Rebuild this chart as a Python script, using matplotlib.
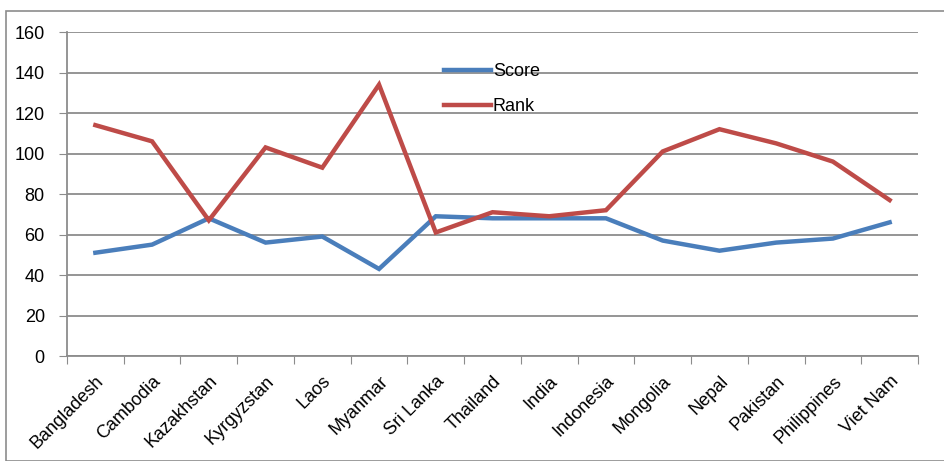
import matplotlib.pyplot as plt
from matplotlib.patches import Rectangle

# ------------------------------------------
# DATA
# ------------------------------------------

countries = ["Bangladesh", "Cambodia", "Kazakhstan", "Kyrgyzstan", "Laos",
             "Myanmar", "Sri Lanka", "Thailand", "India", "Indonesia",
             "Mongolia", "Nepal", "Pakistan", "Philippines", "Viet Nam"]
score = [51, 55, 68, 56, 59, 43, 69, 68, 68, 68, 57, 52, 56, 58, 66]
rank = [114, 106, 67, 103, 93, 134, 61, 71, 69, 72, 101, 112, 105, 96, 77]
y_ticks = [0, 20, 40, 60, 80, 100, 120, 140, 160]

BLUE = "#4a7ebb"
RED = "#be4b48"
GRID = "#8c8c8c"
FS = 13

plt.rcParams["font.family"] = ["Liberation Sans", "DejaVu Sans"]

fig = plt.figure(figsize=(9.44, 4.61), dpi=100)
W, H = 944, 461

# chart frame
fig.patches.append(Rectangle((6 / W, 0), 1.0, 1 - 11 / H, transform=fig.transFigure,
                             fill=False, edgecolor="#8c8c8c", linewidth=1.2))

ax = fig.add_axes([67 / W, 1 - 356 / H, (918 - 67) / W, (356 - 32) / H])

x = list(range(len(countries)))
ax.plot(x, score, color=BLUE, linewidth=3.2, label="Score", solid_joinstyle="miter")
ax.plot(x, rank, color=RED, linewidth=3.2, label="Rank", solid_joinstyle="miter")

ax.set_xlim(-0.5, len(countries) - 0.5)
ax.set_ylim(0, 160)
ax.set_yticks(y_ticks)
ax.set_yticklabels([str(v) for v in y_ticks], fontsize=FS)
ax.yaxis.grid(True, color=GRID, linewidth=1.3)
ax.set_axisbelow(True)
ax.tick_params(axis="y", length=6, color=GRID, pad=10)

# category ticks on boundaries, labels at centers
ax.set_xticks([i - 0.5 for i in range(len(countries) + 1)])
ax.set_xticklabels([])
ax.set_xticks(x, minor=True)
ax.set_xticklabels(countries, minor=True, rotation=45, ha="right",
                   rotation_mode="anchor", fontsize=FS)
ax.tick_params(axis="x", which="major", length=6, color=GRID, direction="out")
ax.tick_params(axis="x", which="minor", length=0, pad=12)

for side in ["top", "right"]:
    ax.spines[side].set_visible(False)
for side in ["left", "bottom"]:
    ax.spines[side].set_color(GRID)
    ax.spines[side].set_linewidth(1.3)

ax.legend(loc="upper left", bbox_to_anchor=(370 / 851, 1 - 24 / 324),
          frameon=False, fontsize=FS, handlelength=2.6, handletextpad=0.1,
          labelspacing=1.0, borderaxespad=0)

fig.savefig("out.png", dpi=100)
